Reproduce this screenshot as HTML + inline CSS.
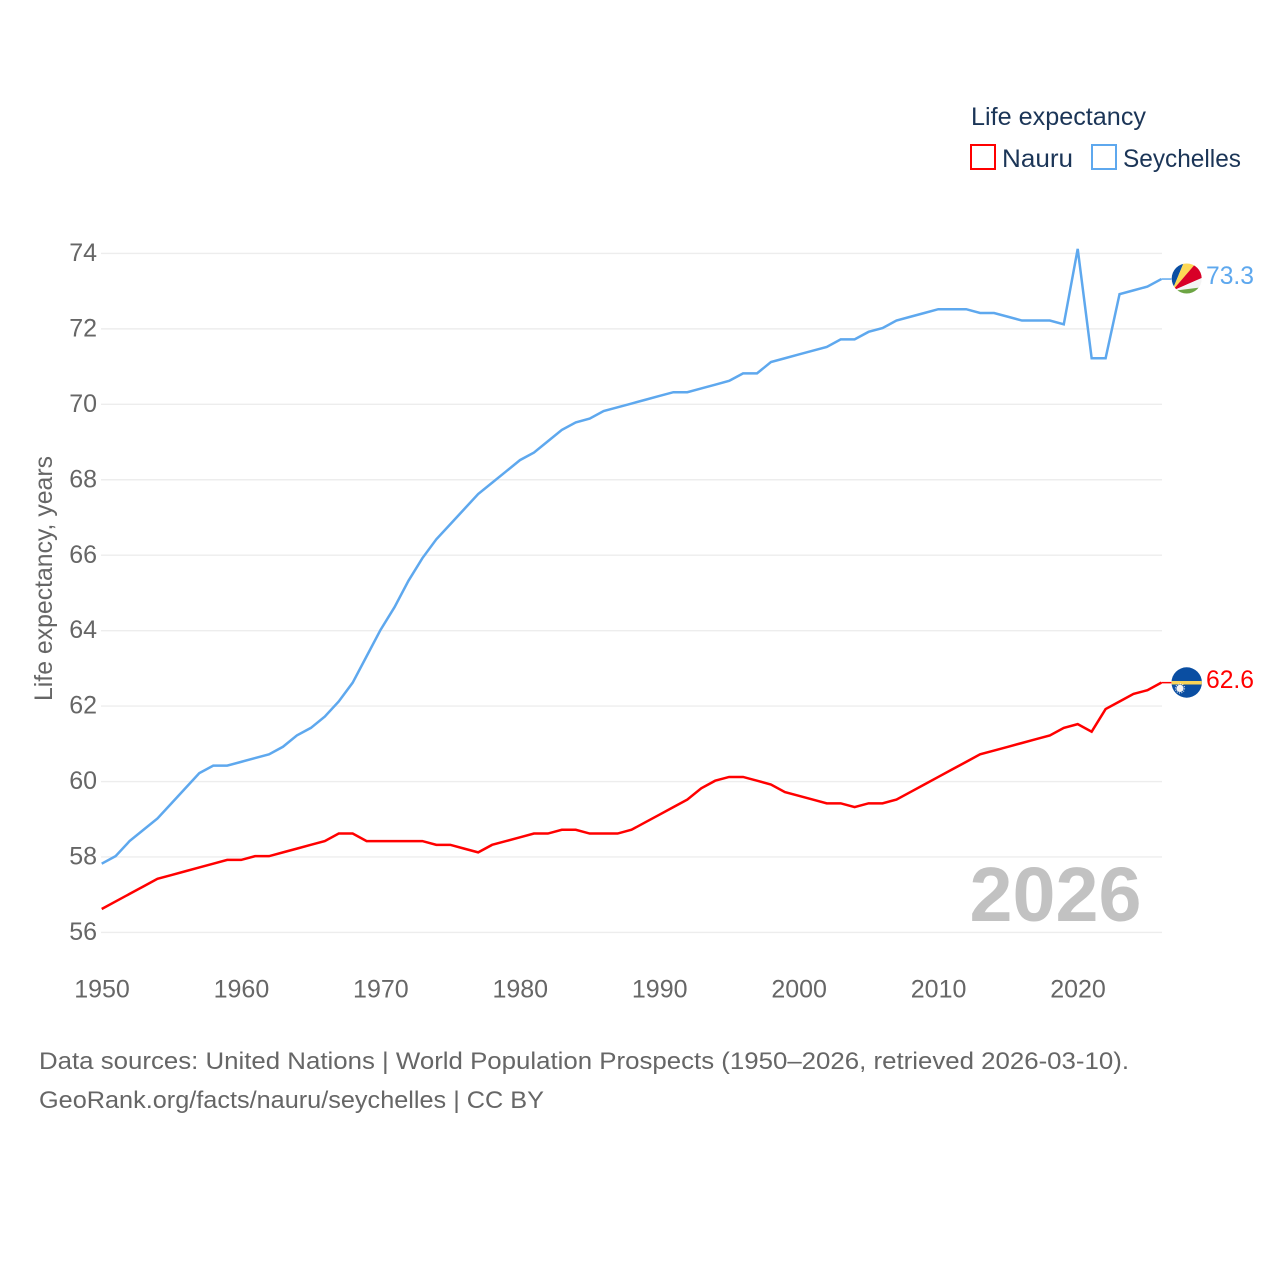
<!DOCTYPE html>
<html lang="en">
<head>
<meta charset="utf-8">
<title>Life expectancy: Nauru and Seychelles</title>
<style>
html,body{margin:0;padding:0;background:#fff;}
svg{display:block;}
text{font-family:"Liberation Sans",sans-serif;}
.tick{font-size:25px;fill:#666;}
.legend{font-size:25px;fill:#1b3557;}
.foot{font-size:24.5px;fill:#666;}
</style>
</head>
<body>
<svg id="chart" xmlns="http://www.w3.org/2000/svg" width="1280" height="1280" viewBox="0 0 1280 1280">
  <defs>
    <clipPath id="clip-sc"><circle cx="1186.7" cy="278.5" r="15"/></clipPath>
    <clipPath id="clip-nr"><circle cx="1186.7" cy="682.5" r="15.2"/></clipPath>
  </defs>
  <rect width="1280" height="1280" fill="#fff"/>
  <g id="grid"></g>
  <g id="yticks"></g>
  <g id="xticks"></g>
  <text class="tick" transform="translate(52,701) rotate(-90)" textLength="245" lengthAdjust="spacingAndGlyphs">Life expectancy, years</text>

  <text x="969.5" y="921" font-size="77" font-weight="bold" fill="#c2c2c2" textLength="172" lengthAdjust="spacingAndGlyphs">2026</text>

  <g id="series" transform="translate(-0.3,-0.8)"></g>

  <g>
    <text class="legend" x="971" y="125" textLength="175" lengthAdjust="spacingAndGlyphs">Life expectancy</text>
    <rect x="971" y="145" width="24" height="24" fill="#fff" stroke="#ff0000" stroke-width="2"/>
    <text class="legend" x="1002" y="167" textLength="71" lengthAdjust="spacingAndGlyphs">Nauru</text>
    <rect x="1092" y="145" width="24" height="24" fill="#fff" stroke="#5ea8ee" stroke-width="2"/>
    <text class="legend" x="1123" y="167" textLength="118" lengthAdjust="spacingAndGlyphs">Seychelles</text>
  </g>

  <g clip-path="url(#clip-sc)">
    <rect x="1171" y="263" width="32" height="32" fill="#f4f4f4"/>
    <polygon points="1172,291 1170,262 1184,262" fill="#0a4ea2"/>
    <polygon points="1172,291 1184,262 1197,262" fill="#fcd856"/>
    <polygon points="1172,291 1197,262 1204,262 1204,277" fill="#d80027"/>
    <polygon points="1172,291 1204,277 1204,287" fill="#f4f4f4"/>
    <polygon points="1172,291 1204,287 1204,295 1172,295" fill="#6da544"/>
  </g>
  <text x="1206" y="284" font-size="25" fill="#5ea8ee" textLength="48" lengthAdjust="spacingAndGlyphs">73.3</text>

  <g clip-path="url(#clip-nr)">
    <rect x="1171" y="667" width="32" height="32" fill="#0a4ea2"/>
    <rect x="1171" y="681" width="32" height="3.5" fill="#f8d458"/>
    <circle cx="1180" cy="688.4" r="3.6" fill="#f4f4f4"/>
    <circle cx="1180" cy="688.4" r="4.6" fill="none" stroke="#f4f4f4" stroke-width="1" stroke-dasharray="1 1.4"/>
  </g>
  <text x="1206" y="688" font-size="25" fill="#ff0000" textLength="48" lengthAdjust="spacingAndGlyphs">62.6</text>

  <text class="foot" x="39" y="1069" textLength="1090" lengthAdjust="spacingAndGlyphs">Data sources: United Nations | World Population Prospects (1950–2026, retrieved 2026-03-10).</text>
  <text class="foot" x="39" y="1108" textLength="505" lengthAdjust="spacingAndGlyphs">GeoRank.org/facts/nauru/seychelles | CC BY</text>
</svg>
<script>
var startYear = 1950;
var nauruValues = [56.6,56.8,57.0,57.2,57.4,57.5,57.6,57.7,57.8,57.9,57.9,58.0,58.0,58.1,58.2,58.3,58.4,58.6,58.6,58.4,58.4,58.4,58.4,58.4,58.3,58.3,58.2,58.1,58.3,58.4,58.5,58.6,58.6,58.7,58.7,58.6,58.6,58.6,58.7,58.9,59.1,59.3,59.5,59.8,60.0,60.1,60.1,60.0,59.9,59.7,59.6,59.5,59.4,59.4,59.3,59.4,59.4,59.5,59.7,59.9,60.1,60.3,60.5,60.7,60.8,60.9,61.0,61.1,61.2,61.4,61.5,61.3,61.9,62.1,62.3,62.4,62.6];
var seychellesValues = [57.8,58.0,58.4,58.7,59.0,59.4,59.8,60.2,60.4,60.4,60.5,60.6,60.7,60.9,61.2,61.4,61.7,62.1,62.6,63.3,64.0,64.6,65.3,65.9,66.4,66.8,67.2,67.6,67.9,68.2,68.5,68.7,69.0,69.3,69.5,69.6,69.8,69.9,70.0,70.1,70.2,70.3,70.3,70.4,70.5,70.6,70.8,70.8,71.1,71.2,71.3,71.4,71.5,71.7,71.7,71.9,72.0,72.2,72.3,72.4,72.5,72.5,72.5,72.4,72.4,72.3,72.2,72.2,72.2,72.1,74.1,71.2,71.2,72.9,73.0,73.1,73.3];
var yTickValues = [56,58,60,62,64,66,68,70,72,74];
var xTickValues = [1950,1960,1970,1980,1990,2000,2010,2020];

var NS = 'http://www.w3.org/2000/svg';
function xScale(year) { return 102 + (year - 1950) * 13.943; }
function yScale(v) { return 932.4 - (v - 56) * 37.72; }

var grid = document.getElementById('grid');
var yticks = document.getElementById('yticks');
var xticks = document.getElementById('xticks');
var series = document.getElementById('series');

yTickValues.forEach(function (v) {
  var line = document.createElementNS(NS, 'line');
  
  
  line.setAttribute('x1', 101);
  line.setAttribute('x2', 1162);
  line.setAttribute('y1', yScale(v));
  line.setAttribute('y2', yScale(v));
  line.setAttribute('stroke', '#ededed');
  line.setAttribute('stroke-width', '1.4');
  grid.appendChild(line);
  var t = document.createElementNS(NS, 'text');
  
  
  t.setAttribute('class', 'tick');
  t.setAttribute('x', 97);
  t.setAttribute('y', yScale(v) + 7.6);
  t.setAttribute('text-anchor', 'end');
  t.textContent = v;
  yticks.appendChild(t);
});

xTickValues.forEach(function (y) {
  var t = document.createElementNS(NS, 'text');
  
  
  t.setAttribute('class', 'tick');
  t.setAttribute('x', xScale(y));
  t.setAttribute('y', 997.5);
  t.setAttribute('text-anchor', 'middle');
  t.textContent = y;
  xticks.appendChild(t);
});

function drawSeries(values, color, name) {
  var d = values.map(function (v, i) {
    return (i ? 'L' : 'M') + xScale(startYear + i).toFixed(2) + ' ' + yScale(v).toFixed(2);
  }).join(' ');
  var path = document.createElementNS(NS, 'path');
  
  
  path.setAttribute('d', d);
  path.setAttribute('fill', 'none');
  path.setAttribute('stroke', color);
  path.setAttribute('stroke-width', '2.5');
  path.setAttribute('stroke-linejoin', 'miter');
  series.appendChild(path);
  var last = values[values.length - 1];
  var lastX = xScale(startYear + values.length - 1);
  var lead = document.createElementNS(NS, 'line');
  
  
  lead.setAttribute('x1', lastX);
  lead.setAttribute('x2', lastX + 10);
  lead.setAttribute('y1', yScale(last));
  lead.setAttribute('y2', yScale(last));
  lead.setAttribute('stroke', color);
  lead.setAttribute('stroke-width', '1.5');
  series.appendChild(lead);
}
drawSeries(nauruValues, '#ff0000', 'nauru');
drawSeries(seychellesValues, '#5ea8ee', 'seychelles');
</script>
</body>
</html>
